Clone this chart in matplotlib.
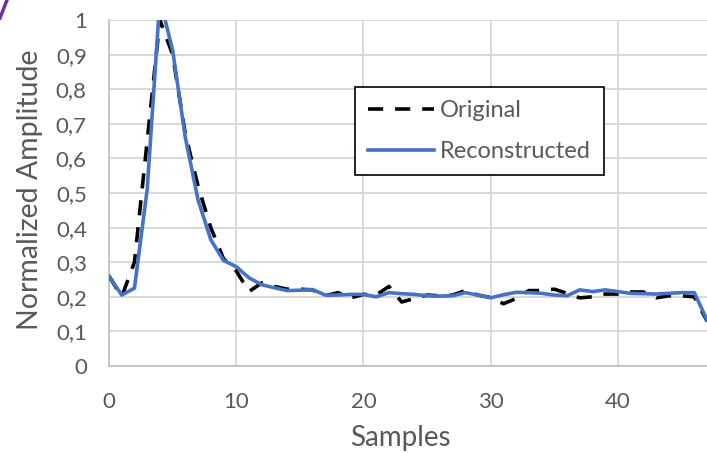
import numpy as np
import matplotlib
matplotlib.use("Agg")
import matplotlib.pyplot as plt
from matplotlib.lines import Line2D
from matplotlib.ticker import FuncFormatter

samples = np.arange(48)
original = [0.26, 0.20, 0.30, 0.65, 1.00, 0.90, 0.67, 0.52, 0.40, 0.31,
            0.275, 0.215, 0.24, 0.23, 0.222, 0.222, 0.22, 0.203, 0.212, 0.197,
            0.207, 0.205, 0.23, 0.185, 0.195, 0.205, 0.203, 0.205, 0.218, 0.205,
            0.198, 0.18, 0.195, 0.218, 0.218, 0.222, 0.21, 0.197, 0.20, 0.208,
            0.208, 0.214, 0.214, 0.197, 0.203, 0.203, 0.20, 0.13]
reconstructed = [0.26, 0.205, 0.225, 0.51, 1.06, 0.913, 0.66, 0.48, 0.365, 0.305,
                 0.287, 0.255, 0.235, 0.226, 0.218, 0.219, 0.221, 0.205, 0.205, 0.207,
                 0.207, 0.200, 0.212, 0.209, 0.207, 0.203, 0.202, 0.203, 0.212, 0.205,
                 0.197, 0.206, 0.213, 0.212, 0.21, 0.205, 0.203, 0.22, 0.215, 0.22,
                 0.215, 0.21, 0.209, 0.208, 0.21, 0.212, 0.212, 0.133]

plt.rcParams['font.family'] = ['Lato', 'DejaVu Sans']
txt = '#595959'
grid = '#d9d9d9'

fig = plt.figure(figsize=(7.07, 4.53), dpi=100)
ax = fig.add_axes([109 / 707, 1 - 366 / 453, 598 / 707, 346 / 453])

lw = 2.6
ax.plot(samples, original, color='black', lw=lw, linestyle=(0, (4.2, 3.3)),
        label='Original', zorder=3)
ax.plot(samples, reconstructed, color='#4472C4', lw=lw, label='Reconstructed',
        zorder=4)

ax.set_xlim(0, 47)
ax.set_ylim(0, 1)
ax.set_xticks([0, 10, 20, 30, 40])
ax.set_yticks(np.round(np.arange(0, 1.01, 0.1), 1))


def comma(v, pos):
    s = ('%.1f' % v).replace('.', ',')
    if s.endswith(',0'):
        s = s[:-2]
    return s


ax.yaxis.set_major_formatter(FuncFormatter(comma))
ax.tick_params(length=0, labelsize=16, colors=txt)
ax.tick_params(axis='y', pad=16)
ax.tick_params(axis='x', pad=19)
ax.grid(True, color=grid, lw=1.4)
ax.set_axisbelow(True)
for s in ['top', 'right']:
    ax.spines[s].set_visible(False)
for s in ['left', 'bottom']:
    ax.spines[s].set_color('#bfbfbf')
    ax.spines[s].set_linewidth(1.2)

fig.text(30 / 707, 1 - 190 / 453, 'Normalized Amplitude', rotation=90,
         ha='center', va='center', fontsize=20.5, color=txt)
fig.text(400 / 707, 1 - 438 / 453, 'Samples', ha='center', va='center',
         fontsize=20, color=txt)

leg = ax.legend(loc='upper left', bbox_to_anchor=(0.411, 0.806),
                borderaxespad=0, fontsize=17, fancybox=False, framealpha=1,
                edgecolor='black', handlelength=2.8, handletextpad=0.25,
                labelspacing=0.85, borderpad=0.55, labelcolor=txt)
leg.get_frame().set_linewidth(1.2)

# purple stroke in the top-left corner of the source image
fig.add_artist(Line2D([0, 7 / 707], [1 - 18 / 453, 1.0], color='#7030a0', lw=2.5))

fig.savefig('out.png', dpi=100)
